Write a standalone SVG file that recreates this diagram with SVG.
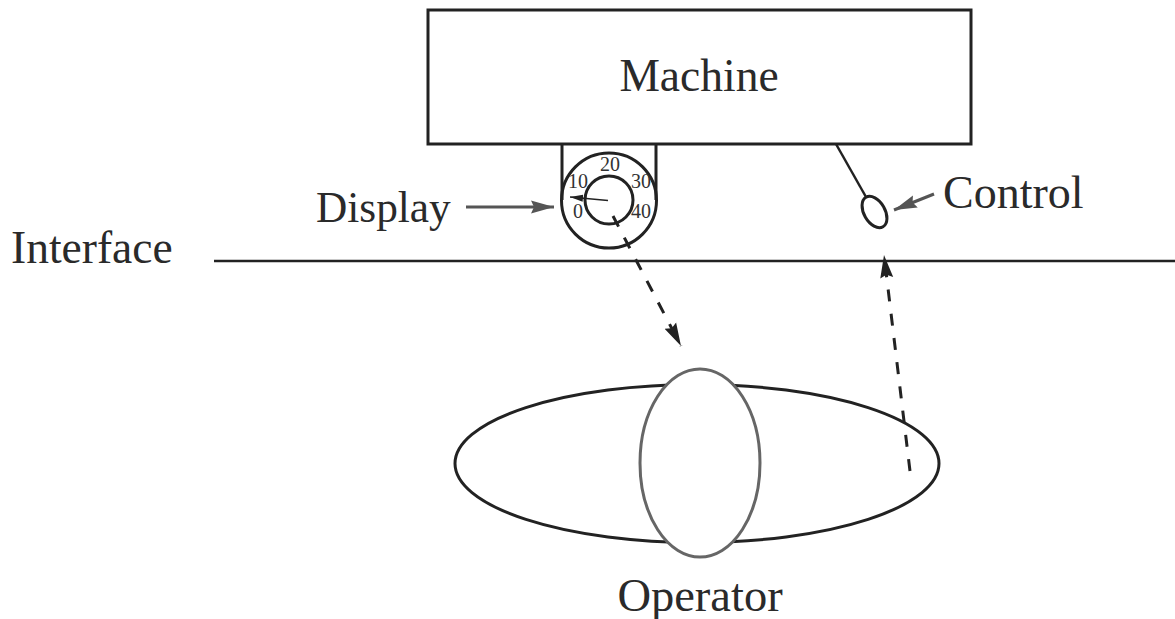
<svg xmlns="http://www.w3.org/2000/svg" width="1175" height="619" viewBox="0 0 1175 619">
<style>
.l{font-family:"Liberation Serif",serif;font-size:45.5px;fill:#2a2a2a}
.n{font-family:"Liberation Serif",serif;font-size:20px;fill:#333;text-anchor:middle}
.k{fill:none;stroke:#222;stroke-width:3}
.c{fill:none;stroke:#222;stroke-width:2.5}
.d{fill:none;stroke:#222;stroke-width:3;stroke-dasharray:12 12.4}
.g{fill:none;stroke:#555;stroke-width:3}
</style>
<defs>
<marker id="a" markerUnits="userSpaceOnUse" markerWidth="24" markerHeight="16" refX="23" refY="8" orient="auto"><path d="M0 1.500L23 8L0 14.500L3 8z" fill="#222"/></marker>
<marker id="b" markerUnits="userSpaceOnUse" markerWidth="24" markerHeight="16" refX="23" refY="8" orient="auto"><path d="M0 1.500L23 8L0 14.500L3 8z" fill="#555"/></marker>
<marker id="s" markerUnits="userSpaceOnUse" markerWidth="14" markerHeight="8" refX="13" refY="4" orient="auto"><path d="M0 0.500L13 4L0 7.500z" fill="#222"/></marker>
</defs>
<rect width="1175" height="619" fill="#fff"/>
<g id="machine"><rect class="k" x="428" y="10" width="543" height="134"/><text class="l" x="699" y="91" text-anchor="middle">Machine</text></g>
<g id="display">
<path class="k" d="M562 144V200M656 144V200"/>
<circle class="k" cx="609" cy="200.500" r="47.500"/>
<circle class="k" cx="609" cy="200" r="24"/>
<text class="n" x="610" y="171">20</text>
<text class="n" x="578" y="188">10</text>
<text class="n" x="641" y="188">30</text>
<text class="n" x="578" y="218">0</text>
<text class="n" x="641" y="218">40</text>
<text class="l" x="316" y="222" style="font-size:43.300px">Display</text>
</g>
<g id="control"><ellipse class="k" cx="874.500" cy="212" rx="10.500" ry="17" transform="rotate(-30 874.500 212)"/><text class="l" x="943" y="208" style="font-size:46px">Control</text></g>
<g id="interface"><text class="l" x="11" y="263">Interface</text></g>
<g id="operator">
<ellipse class="k" cx="697" cy="463.500" rx="242" ry="79"/>
<ellipse cx="700" cy="463" rx="60" ry="94" fill="#fff" stroke="#666" stroke-width="3"/>
<text class="l" x="700" y="611" text-anchor="middle" style="font-size:46.500px">Operator</text>
</g>
<g id="connectors">
<path class="c" d="M214 261H1175"/>
<path class="c" d="M836 144L866 197"/>
<path d="M608 200.500L570 197" fill="none" stroke="#222" stroke-width="1.500" marker-end="url(#s)"/>
<path class="g" d="M466 207H554" marker-end="url(#b)"/>
<path class="g" d="M934 194L894 210" marker-end="url(#b)"/>
<path class="d" d="M613 216L681 346" marker-end="url(#a)"/>
<path class="d" d="M910 471L884 255" marker-end="url(#a)"/>
</g>
</svg>
